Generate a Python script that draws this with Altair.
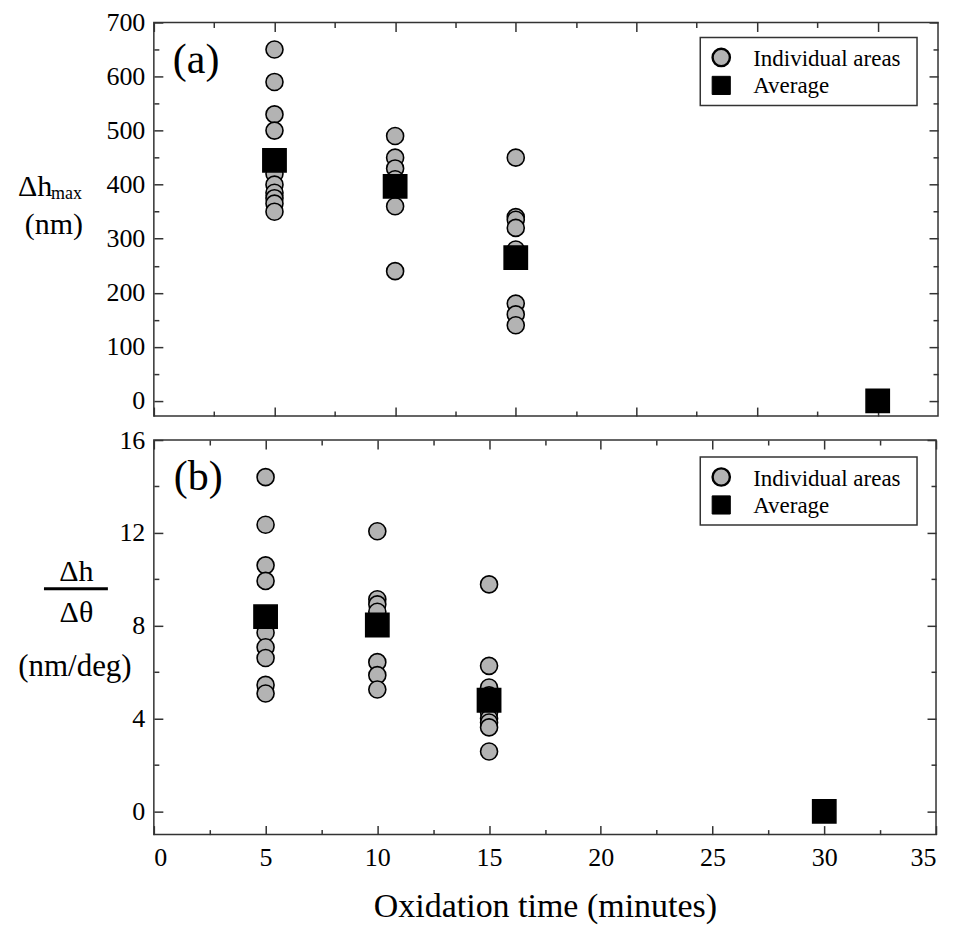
import altair as alt
import pandas as pd

FONT = "Liberation Serif, Times New Roman, DejaVu Serif, serif"
SERIES = ["Individual areas", "Average"]

# ---- Panel (a): Δh_max (nm) ----
a_ind_time = [5, 5, 5, 5, 5, 5, 5, 5, 5, 5,
              10, 10, 10, 10, 10, 10, 10,
              15, 15, 15, 15, 15, 15, 15, 15]
a_ind_val = [650, 590, 530, 500, 420, 400, 385, 375, 365, 350,
             490, 450, 430, 410, 390, 360, 240,
             450, 340, 335, 320, 280, 180, 160, 140]
a_avg_time = [5, 10, 15, 30]
a_avg_val = [445, 397, 265, 0]

# ---- Panel (b): Δh/Δθ (nm/deg) ----
b_ind_time = [5, 5, 5, 5, 5, 5, 5, 5, 5, 5,
              10, 10, 10, 10, 10, 10, 10,
              15, 15, 15, 15, 15, 15, 15, 15, 15]
b_ind_val = [14.4, 12.35, 10.6, 9.93, 8.2, 7.7, 7.07, 6.61, 5.45, 5.08,
             12.07, 9.14, 8.92, 8.6, 6.43, 5.87, 5.25,
             9.78, 6.27, 5.34, 5.0, 4.26, 4.0, 3.83, 3.62, 2.58]
b_avg_time = [5, 10, 15, 30]
b_avg_val = [8.39, 8.03, 4.79, 0]

# axis tick values
a_x_major = [0, 5, 10, 15, 20, 25, 30]
a_x_minor = [2.5, 7.5, 12.5, 17.5, 22.5, 27.5]
a_y_major = [0, 100, 200, 300, 400, 500, 600, 700]
a_y_minor = [50, 150, 250, 350, 450, 550, 650]
b_x_major = [0, 5, 10, 15, 20, 25, 30, 35]
b_x_minor = [2.5, 7.5, 12.5, 17.5, 22.5, 27.5, 32.5]
b_y_major = [0, 4, 8, 12, 16]
b_y_minor = [2, 6, 10, 14]

X_TITLE = "Oxidation time (minutes)"

FILL_SCALE = alt.Scale(domain=SERIES, range=["#b3b3b3", "black"])
SHAPE_SCALE = alt.Scale(domain=SERIES, range=["circle", "square"])
SIZE_SCALE = alt.Scale(domain=SERIES, range=[290, 540])


def make_df(it, iv, at, av):
    return pd.DataFrame({
        "time": list(it) + list(at),
        "value": list(iv) + list(av),
        "series": [SERIES[0]] * len(it) + [SERIES[1]] * len(at),
        "series_order": [0] * len(it) + [1] * len(at),
    })


def text_layer(txt, x, y, size, align="left"):
    return alt.Chart(pd.DataFrame({"t": [txt]})).mark_text(
        align=align, baseline="alphabetic", font=FONT, fontSize=size, color="black"
    ).encode(x=alt.value(x), y=alt.value(y), text="t:N")


def legend_layers(lx, ly):
    box = alt.Chart(pd.DataFrame({"k": [0]})).mark_rect(
        fill="white", stroke="#333", strokeWidth=1.5
    ).encode(x=alt.value(lx), x2=alt.value(lx + 217), y=alt.value(ly), y2=alt.value(ly + 68))
    out = [box]
    for i, name in enumerate(SERIES):
        sym = alt.Chart(pd.DataFrame({"series": [name]})).mark_point(
            filled=True, stroke="black", strokeWidth=2.4 if i == 0 else 1,
            opacity=1, size=300 if i == 0 else 330
        ).encode(
            x=alt.value(lx + 21), y=alt.value(ly + 20 + 28 * i),
            fill=alt.Fill("series:N", scale=FILL_SCALE, legend=None),
            shape=alt.Shape("series:N", scale=SHAPE_SCALE, legend=None),
        )
        out.append(sym)
        out.append(text_layer(name, lx + 53, ly + 29 + 27 * i, 23))
    return out


def panel(df, xdom, ydom, xmaj, xmin, ymaj, ymin, w, h, xlabels, xtitle, legend_xy, extras):
    xs = alt.Scale(domain=xdom, nice=False, zero=False)
    ys = alt.Scale(domain=ydom, nice=False, zero=False)
    base = dict(grid=False, domain=False, tickColor="#333", tickWidth=1.5,
                labelFont=FONT, labelFontSize=26, labelColor="black")

    def ax(orient, values, size, labels, title=None, **kw):
        return alt.Axis(orient=orient, values=values, tickSize=size, offset=-size,
                        labels=labels, title=title, **base, **kw)

    if xtitle:
        xb = ax("bottom", xmaj, 9, xlabels, title=xtitle, labelPadding=10,
                titleFont=FONT, titleFontSize=34, titleFontWeight="normal",
                titleColor="black", titlePadding=19)
    else:
        xb = ax("bottom", xmaj, 9, xlabels, labelPadding=10)

    pts = alt.Chart(df).mark_point(filled=True, stroke="black", strokeWidth=1.6, opacity=1).encode(
        x=alt.X("time:Q", scale=xs, axis=xb),
        y=alt.Y("value:Q", scale=ys, axis=ax("left", ymaj, 9, True, labelPadding=9)),
        fill=alt.Fill("series:N", scale=FILL_SCALE, legend=None),
        shape=alt.Shape("series:N", scale=SHAPE_SCALE, legend=None),
        size=alt.Size("series:N", scale=SIZE_SCALE, legend=None),
        order=alt.Order("series_order:Q"),
    )

    def dummy(xa, ya):
        return alt.Chart(df).mark_point(opacity=0).encode(
            x=alt.X("time:Q", scale=xs, axis=xa),
            y=alt.Y("value:Q", scale=ys, axis=ya),
        )

    d2 = dummy(ax("bottom", xmin, 5, False), ax("left", ymin, 5, False))
    d3 = dummy(ax("top", xmaj, 9, False), ax("right", ymaj, 9, False))
    d4 = dummy(ax("top", xmin, 5, False), ax("right", ymin, 5, False))

    return alt.layer(pts, d2, d3, d4, *extras, *legend_layers(*legend_xy)).resolve_axis(
        x="independent", y="independent").properties(width=w, height=h)


df_a = make_df(a_ind_time, a_ind_val, a_avg_time, a_avg_val)
df_b = make_df(b_ind_time, b_ind_val, b_avg_time, b_avg_val)

extras_a = [
    text_layer("(a)", 19, 51, 42),
    text_layer("Δh", -136, 174, 30),
    text_layer("max", -103, 177, 18),
    text_layer("(nm)", -100, 212, 30, align="center"),
]
frac_line = alt.Chart(pd.DataFrame({"k": [0]})).mark_rule(color="black", strokeWidth=3).encode(
    x=alt.value(-110), x2=alt.value(-46), y=alt.value(149))
extras_b = [
    text_layer("(b)", 20, 50, 42),
    text_layer("Δh", -77.5, 141, 30, align="center"),
    frac_line,
    text_layer("Δθ", -77.5, 182, 30, align="center"),
    text_layer("(nm/deg)", -79, 236, 31, align="center"),
]

top = panel(df_a, [0, 32.5], [-28, 700], a_x_major, a_x_minor, a_y_major, a_y_minor,
            785, 394, False, None, (547, 15), extras_a)
bottom = panel(df_b, [0, 35], [-1, 16], b_x_major, b_x_minor, b_y_major, b_y_minor,
               783, 395, True, X_TITLE, (547, 17), extras_b)

chart = alt.vconcat(top, bottom, spacing=24, bounds="flush").resolve_scale(
    fill="independent", shape="independent", size="independent"
).properties(
    padding={"left": 9, "top": 0, "right": 5, "bottom": 5}
).configure(font=FONT).configure_view(stroke="#333", strokeWidth=1.5)

chart.save("out.html", embed_options={"renderer": "svg", "actions": False})
